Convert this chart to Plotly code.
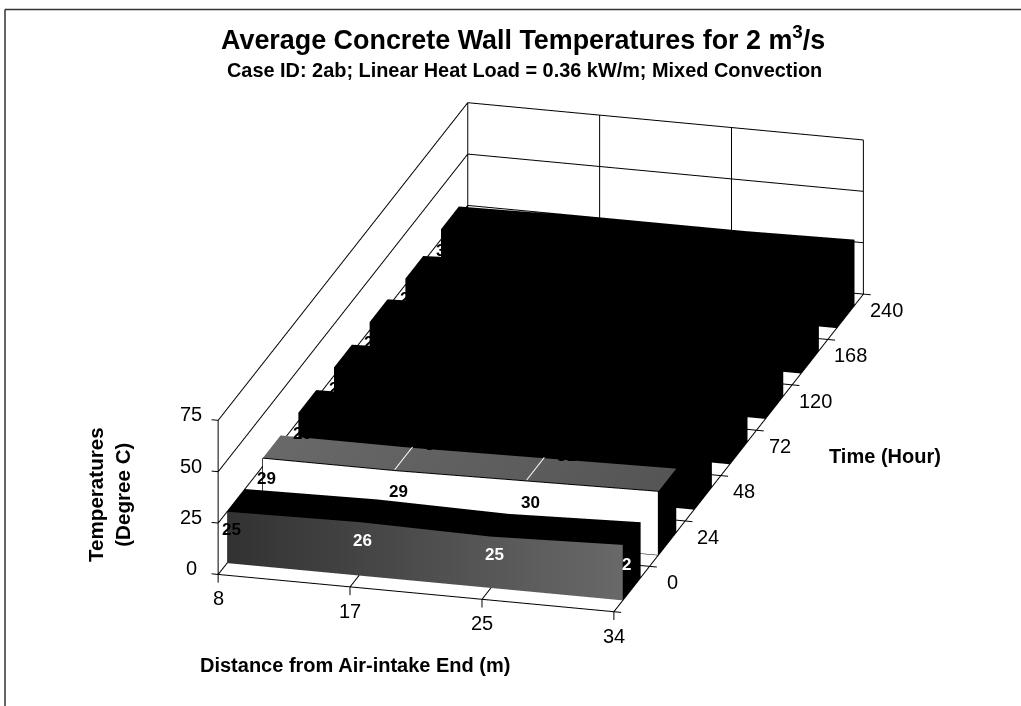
import plotly.graph_objects as go

# Time rows (hours) front to back and sampling stations along the wall (m)
time_hours = [0, 24, 48, 72, 120, 168, 240]
distance_m = [8, 17, 25, 34]
temp_ticks = [0, 25, 50, 75]

# Average wall temperature (deg C) per time row, one value per station
temp_0 = [25, 26, 25, 27]
temp_24 = [29, 29, 30, 31]
temp_48 = [29, 30, 31, 32]
temp_72 = [29, 31, 31, 32]
temp_120 = [29, 31, 32, 33]
temp_168 = [28, 31, 31, 33]
temp_240 = [30, 31, 31, 32]
rows = [temp_0, temp_24, temp_48, temp_72, temp_120, temp_168, temp_240]

FONT = "Liberation Sans"
INK = "#000000"
HALF = 0.25  # half ribbon depth, in category units (gap depth 100%)


def shade(a, b, t):
    return "rgb(%d,%d,%d)" % tuple(round(a + (b - a) * t) for _ in range(3))


def ribbon(row, vals, front, top):
    """One area ribbon: front face, top face and right end cap."""
    xs, ys, zs, cols, i, j, k = [], [], [], [], [], [], []

    def quad(pts, colours):
        b = len(xs)
        for (x, y, z), c in zip(pts, colours):
            xs.append(x); ys.append(y); zs.append(z); cols.append(c)
        i.extend([b, b]); j.extend([b + 1, b + 2]); k.extend([b + 2, b + 3])

    y0, y1 = row - HALF, row + HALF
    n = len(vals) - 1
    for s in range(n):
        ca, cb = shade(*front, s / n), shade(*front, (s + 1) / n)
        ta, tb = shade(*top, s / n), shade(*top, (s + 1) / n)
        quad([(s, y0, 0), (s + 1, y0, 0), (s + 1, y0, vals[s + 1]), (s, y0, vals[s])],
             [ca, cb, cb, ca])
        quad([(s, y0, vals[s]), (s + 1, y0, vals[s + 1]), (s + 1, y1, vals[s + 1]), (s, y1, vals[s])],
             [ta, tb, tb, ta])
    quad([(n, y0, 0), (n, y1, 0), (n, y1, vals[n]), (n, y0, vals[n])], ["#000000"] * 4)
    return go.Mesh3d(x=xs, y=ys, z=zs, i=i, j=j, k=k, vertexcolor=cols, flatshading=True,
                     lighting=dict(ambient=1, diffuse=0, specular=0, fresnel=0, roughness=1),
                     hoverinfo="skip", showscale=False)


def line3d(x, y, z, width=2, color=INK):
    return go.Scatter3d(x=x, y=y, z=z, mode="lines", line=dict(color=color, width=width),
                        hoverinfo="skip", showlegend=False)


fig = go.Figure()

# Front row: mottled grey face lightening to the right; second row: white face, grey top
styles = {0: ((50, 105), (0, 0)), 1: ((255, 255), (105, 85))}
for idx, vals in enumerate(rows):
    front, top = styles.get(idx, ((0, 0), (0, 0)))
    fig.add_trace(ribbon(idx, vals, front, top))

ymin, ymax = -0.5, len(time_hours) - 0.5
xmax = len(distance_m) - 1
xs_idx = list(range(len(distance_m)))

# Walls: temperature levels on the side and back walls, station lines on the back wall
for t in temp_ticks:
    fig.add_trace(line3d([0, 0, xmax], [ymin, ymax, ymax], [t, t, t]))
    fig.add_trace(line3d([0, -0.05], [ymin, ymin], [t, t]))
for s in xs_idx:
    fig.add_trace(line3d([s, s], [ymax, ymax], [0, 75]))
fig.add_trace(line3d([0, 0], [ymin, ymin], [0, 75]))

# Floor grid and tick stubs
for s in xs_idx:
    fig.add_trace(line3d([s, s], [ymin, ymax], [0, 0]))
    fig.add_trace(line3d([s, s], [ymin, ymin], [0, -4]))
for r in range(len(time_hours) + 1):
    fig.add_trace(line3d([0, xmax + 0.055], [r - 0.5, r - 0.5], [0, 0]))

# Outline of the white ribbon's front face, and the creases on its grey top
y_front = 1 - HALF
fig.add_trace(line3d(xs_idx, [y_front] * 4, temp_24))
fig.add_trace(line3d([0, 0], [y_front, y_front], [0, temp_24[0]]))
fig.add_trace(line3d([xmax, xmax], [y_front, y_front], [0, temp_24[-1]]))
fig.add_trace(line3d(xs_idx, [y_front] * 4, [0] * 4))
for s in (1, 2):
    fig.add_trace(line3d([s, s], [y_front, y_front + 2 * HALF], [temp_24[s] + 0.4] * 2, color="#ffffff"))

annotations = []


def note(x, y, z, text, size=20, color=INK, dx=0, dy=0, bold=False):
    annotations.append(dict(x=x, y=y, z=z, text=("<b>%s</b>" % text) if bold else text,
                            showarrow=False, xshift=dx, yshift=dy,
                            font=dict(family=FONT, size=size, color=color)))


for t in temp_ticks:
    note(0, ymin, t, str(t), dx=-27, dy=6)
for s, d in enumerate(distance_m):
    note(s, ymin, 0, str(d), dy=-24)
for r, h in enumerate(time_hours):
    note(xmax, r, 0, str(h), dx=41, dy=7)

# Value labels sit on each ribbon's front face at two thirds of its height; the
# last station's label straddles the end cap, so only its first digit shows
for row, vals in enumerate(rows):
    for s, v in enumerate(vals):
        text = str(v)[0] if s == xmax and row < 2 else str(v)
        colour = "#ffffff" if row == 0 and s > 0 else INK
        note(s, row - HALF, v * 0.65, text, size=17, color=colour, dx=4, bold=True)

W, H = 1021, 706
layout_annotations = [
    dict(x=522.5, y=38, text="<b>Average Concrete Wall Temperatures for 2 m<sup>3</sup>/s</b>",
         font=dict(size=26.9)),
    dict(x=524, y=70, text="<b>Case ID: 2ab; Linear Heat Load = 0.36 kW/m; Mixed Convection</b>",
         font=dict(size=19.9)),
    dict(x=109, y=495, text="<b>Temperatures<br>(Degree C)</b>", textangle=-90, font=dict(size=20.6)),
    dict(x=885, y=456, text="<b>Time (Hour)</b>", font=dict(size=20)),
    dict(x=355, y=665, text="<b>Distance from Air-intake End (m)</b>", font=dict(size=20)),
]
for a in layout_annotations:
    a.update(xref="paper", yref="paper", showarrow=False, xanchor="center", yanchor="middle",
             x=a["x"] / W, y=1 - a["y"] / H)
    a["font"] = dict(family=FONT, color=INK, size=a["font"]["size"])

# Page frame
frame = [
    dict(type="line", xref="paper", yref="paper", x0=5 / W, x1=5 / W, y0=0, y1=1 - 9.5 / H,
         line=dict(color="#333333", width=1.5)),
    dict(type="line", xref="paper", yref="paper", x0=5 / W, x1=1, y0=1 - 9.5 / H, y1=1 - 9.5 / H,
         line=dict(color="#333333", width=1.5)),
]

fig.update_layout(
    width=W, height=H, margin=dict(l=0, r=0, t=0, b=0), showlegend=False,
    paper_bgcolor="white", annotations=layout_annotations, shapes=frame,
    scene=dict(
        domain=dict(x=[0, 1], y=[0, 1]),
        xaxis=dict(visible=False, range=[-0.06, xmax + 0.06]),
        yaxis=dict(visible=False, range=[ymin - 0.02, ymax + 0.06]),
        zaxis=dict(visible=False, range=[-5, 76]),
        aspectmode="manual",
        aspectratio=dict(x=1.2082, y=2.7238, z=0.5026),
        camera=dict(
            projection=dict(type="orthographic"),
            up=dict(x=0, y=0, z=1),
            center=dict(x=-0.0867, y=-0.0161, z=0.0197),
            eye=dict(x=0.5291, y=-2.2794, z=0.8855),
        ),
        annotations=annotations,
    ),
)
fig.write_html("out.html")
